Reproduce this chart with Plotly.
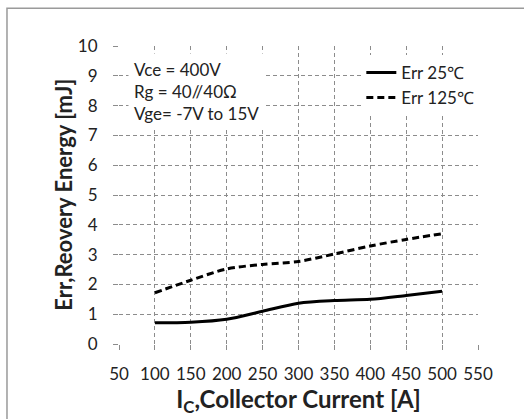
import plotly.graph_objects as go

current = [100, 150, 200, 250, 300, 350, 400, 450, 500]
err_25 = [0.71, 0.73, 0.83, 1.1, 1.37, 1.46, 1.5, 1.63, 1.77]
err_125 = [1.72, 2.14, 2.52, 2.67, 2.77, 3.02, 3.29, 3.51, 3.7]
x_ticks = [50, 100, 150, 200, 250, 300, 350, 400, 450, 500, 550]
y_ticks = [0, 1, 2, 3, 4, 5, 6, 7, 8, 9, 10]

FONT = "Lato"

fig = go.Figure()
fig.add_trace(go.Scatter(x=current, y=err_25, mode="lines", name="Err 25\u2103",
                         line=dict(color="black", width=3, shape="spline", smoothing=0.8)))
fig.add_trace(go.Scatter(x=current, y=err_125, mode="lines", name="Err 125\u2103",
                         line=dict(color="black", width=3, dash="7px,4px", shape="spline", smoothing=0.8)))

grid = "#8c8c8c"
fig.update_xaxes(range=[50, 550], tickvals=x_ticks, showgrid=True, gridcolor=grid, griddash="4px,3px",
                 gridwidth=1, zeroline=False, showline=False, ticks="outside", ticklen=5, tickcolor=grid,
                 ticklabelstandoff=10,
                 tickfont=dict(family=FONT, size=17, color="#222"),
                 title=dict(text="I<sub>C</sub>,Collector Current [A]",
                            font=dict(family=FONT, size=24, color="#222", weight="bold"), standoff=6))
fig.update_yaxes(range=[0, 10], tickvals=y_ticks, showgrid=True, gridcolor=grid, griddash="4px,3px",
                 gridwidth=1, zeroline=False, showline=False, ticks="outside", ticklen=5, tickcolor=grid,
                 ticklabelstandoff=12,
                 tickfont=dict(family=FONT, size=17, color="#222"))

fig.add_annotation(xref="paper", yref="paper", x=-0.157, y=0.5, xanchor="center", yanchor="middle",
                   text="<b>Err,Reovery Energy [mJ]</b>", textangle=-90, showarrow=False,
                   font=dict(family=FONT, size=22, color="#222"))

fig.add_annotation(xref="paper", yref="paper", x=0.025, y=0.975, xanchor="left", yanchor="top",
                   text="Vce = 400V<br>Rg = 40//40\u03a9<br>Vge= -7V to 15V", showarrow=False, align="left",
                   font=dict(family=FONT, size=17, color="#222"), bgcolor="white", borderpad=5)

fig.add_shape(type="rect", xref="paper", yref="paper", x0=-0.312, y0=-0.35, x1=1.15, y1=1.127,
              line=dict(color="#9a9a9a", width=1.5), layer="below")

fig.update_layout(
    width=524, height=419,
    margin=dict(l=119, r=46, t=46, b=69),
    paper_bgcolor="white", plot_bgcolor="white",
    showlegend=True,
    legend=dict(x=0.675, y=0.97, xanchor="left", yanchor="top", bgcolor="white",
                font=dict(family=FONT, size=17, color="#222"), itemwidth=30, tracegroupgap=0),
)

fig.write_html("out.html")
